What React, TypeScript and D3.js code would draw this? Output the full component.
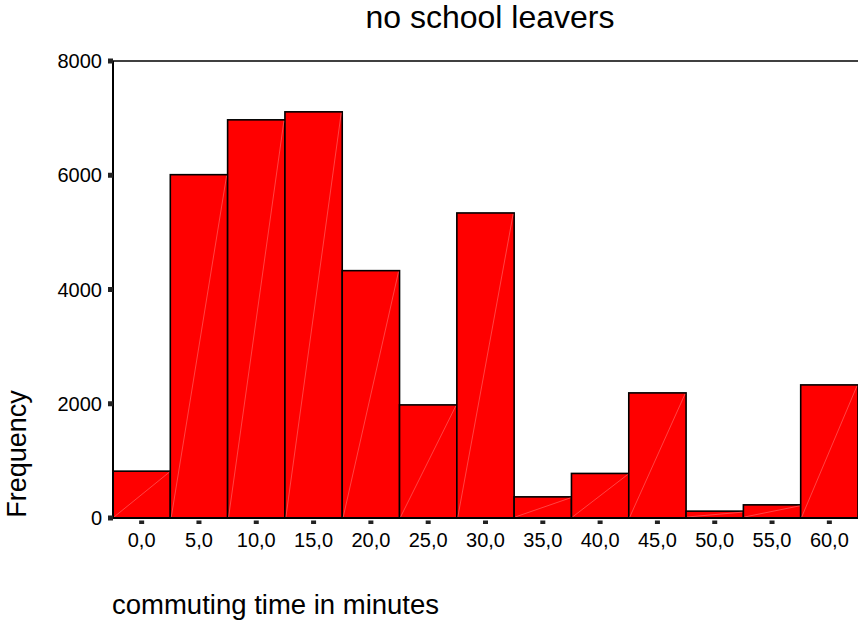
import { useEffect, useRef } from "react";
import * as d3 from "d3";

const categories = ["0,0", "5,0", "10,0", "15,0", "20,0", "25,0", "30,0", "35,0", "40,0", "45,0", "50,0", "55,0", "60,0"];
const frequencies = [820, 6010, 6970, 7110, 4330, 1980, 5340, 370, 780, 2190, 120, 230, 2330];
const yTicks = [0, 2000, 4000, 6000, 8000];

const W = 858;
const H = 620;

const App = () => {
  const ref = useRef<SVGSVGElement | null>(null);

  useEffect(() => {
    const svg = d3.select(ref.current);
    svg.selectAll("*").remove();

    const left = 113, right = 858, top = 61, bottom = 518;
    const font = "'Liberation Sans', Arial, sans-serif";

    const x = d3.scaleBand<string>().domain(categories).range([left, right]).padding(0);
    const y = d3.scaleLinear().domain([0, 8000]).range([bottom, top]);

    // title
    svg.append("text")
      .attr("x", 490).attr("y", 28)
      .attr("text-anchor", "middle")
      .attr("font-family", font).attr("font-size", 32)
      .text("no school leavers");

    // bars
    const bars = svg.append("g");
    bars.selectAll("rect")
      .data(frequencies)
      .join("rect")
      .attr("x", (_, i) => x(categories[i])!)
      .attr("y", d => y(d))
      .attr("width", x.bandwidth())
      .attr("height", d => bottom - y(d))
      .attr("fill", "#ff0000")
      .attr("stroke", "#000")
      .attr("stroke-width", 1.6);

    // faint diagonals in each bar
    bars.selectAll("line")
      .data(frequencies)
      .join("line")
      .attr("x1", (_, i) => x(categories[i])! + 1)
      .attr("y1", bottom - 1)
      .attr("x2", (_, i) => x(categories[i])! + x.bandwidth() - 1)
      .attr("y2", d => y(d) + 1)
      .attr("stroke", "#ff7070")
      .attr("stroke-width", 0.6);

    // frame top line
    svg.append("line")
      .attr("x1", left).attr("x2", right)
      .attr("y1", top).attr("y2", top)
      .attr("stroke", "#000").attr("stroke-width", 1.6);

    // axes lines
    svg.append("line")
      .attr("x1", left).attr("x2", left)
      .attr("y1", top).attr("y2", bottom + 1)
      .attr("stroke", "#000").attr("stroke-width", 2);
    svg.append("line")
      .attr("x1", left).attr("x2", right)
      .attr("y1", bottom).attr("y2", bottom)
      .attr("stroke", "#000").attr("stroke-width", 2);

    // y ticks
    const yg = svg.append("g");
    yg.selectAll("rect")
      .data(yTicks)
      .join("rect")
      .attr("x", 108).attr("y", d => y(d) - 2.5)
      .attr("width", 5).attr("height", 5)
      .attr("fill", "#222");
    yg.selectAll("text")
      .data(yTicks)
      .join("text")
      .attr("x", 102).attr("y", d => y(d) + 7)
      .attr("text-anchor", "end")
      .attr("font-family", font).attr("font-size", 20)
      .text(d => d);

    // x ticks
    const xg = svg.append("g");
    xg.selectAll("rect")
      .data(categories)
      .join("rect")
      .attr("x", d => x(d)! + x.bandwidth() / 2 - 2.5)
      .attr("y", 520.5)
      .attr("width", 5).attr("height", 3.5)
      .attr("fill", "#222");
    xg.selectAll("text")
      .data(categories)
      .join("text")
      .attr("x", d => x(d)! + x.bandwidth() / 2)
      .attr("y", 547)
      .attr("text-anchor", "middle")
      .attr("font-family", font).attr("font-size", 20)
      .text(d => d);

    // axis titles
    svg.append("text")
      .attr("transform", "translate(26,454) rotate(-90)")
      .attr("text-anchor", "middle")
      .attr("font-family", font).attr("font-size", 27)
      .text("Frequency");
    svg.append("text")
      .attr("x", 112).attr("y", 614)
      .attr("font-family", font).attr("font-size", 27.5)
      .text("commuting time in minutes");
  }, []);

  return (
    <svg
      ref={ref}
      width={W}
      height={H}
      style={{ position: "absolute", top: 0, left: 0, background: "#fff" }}
    />
  );
};

export default App;
